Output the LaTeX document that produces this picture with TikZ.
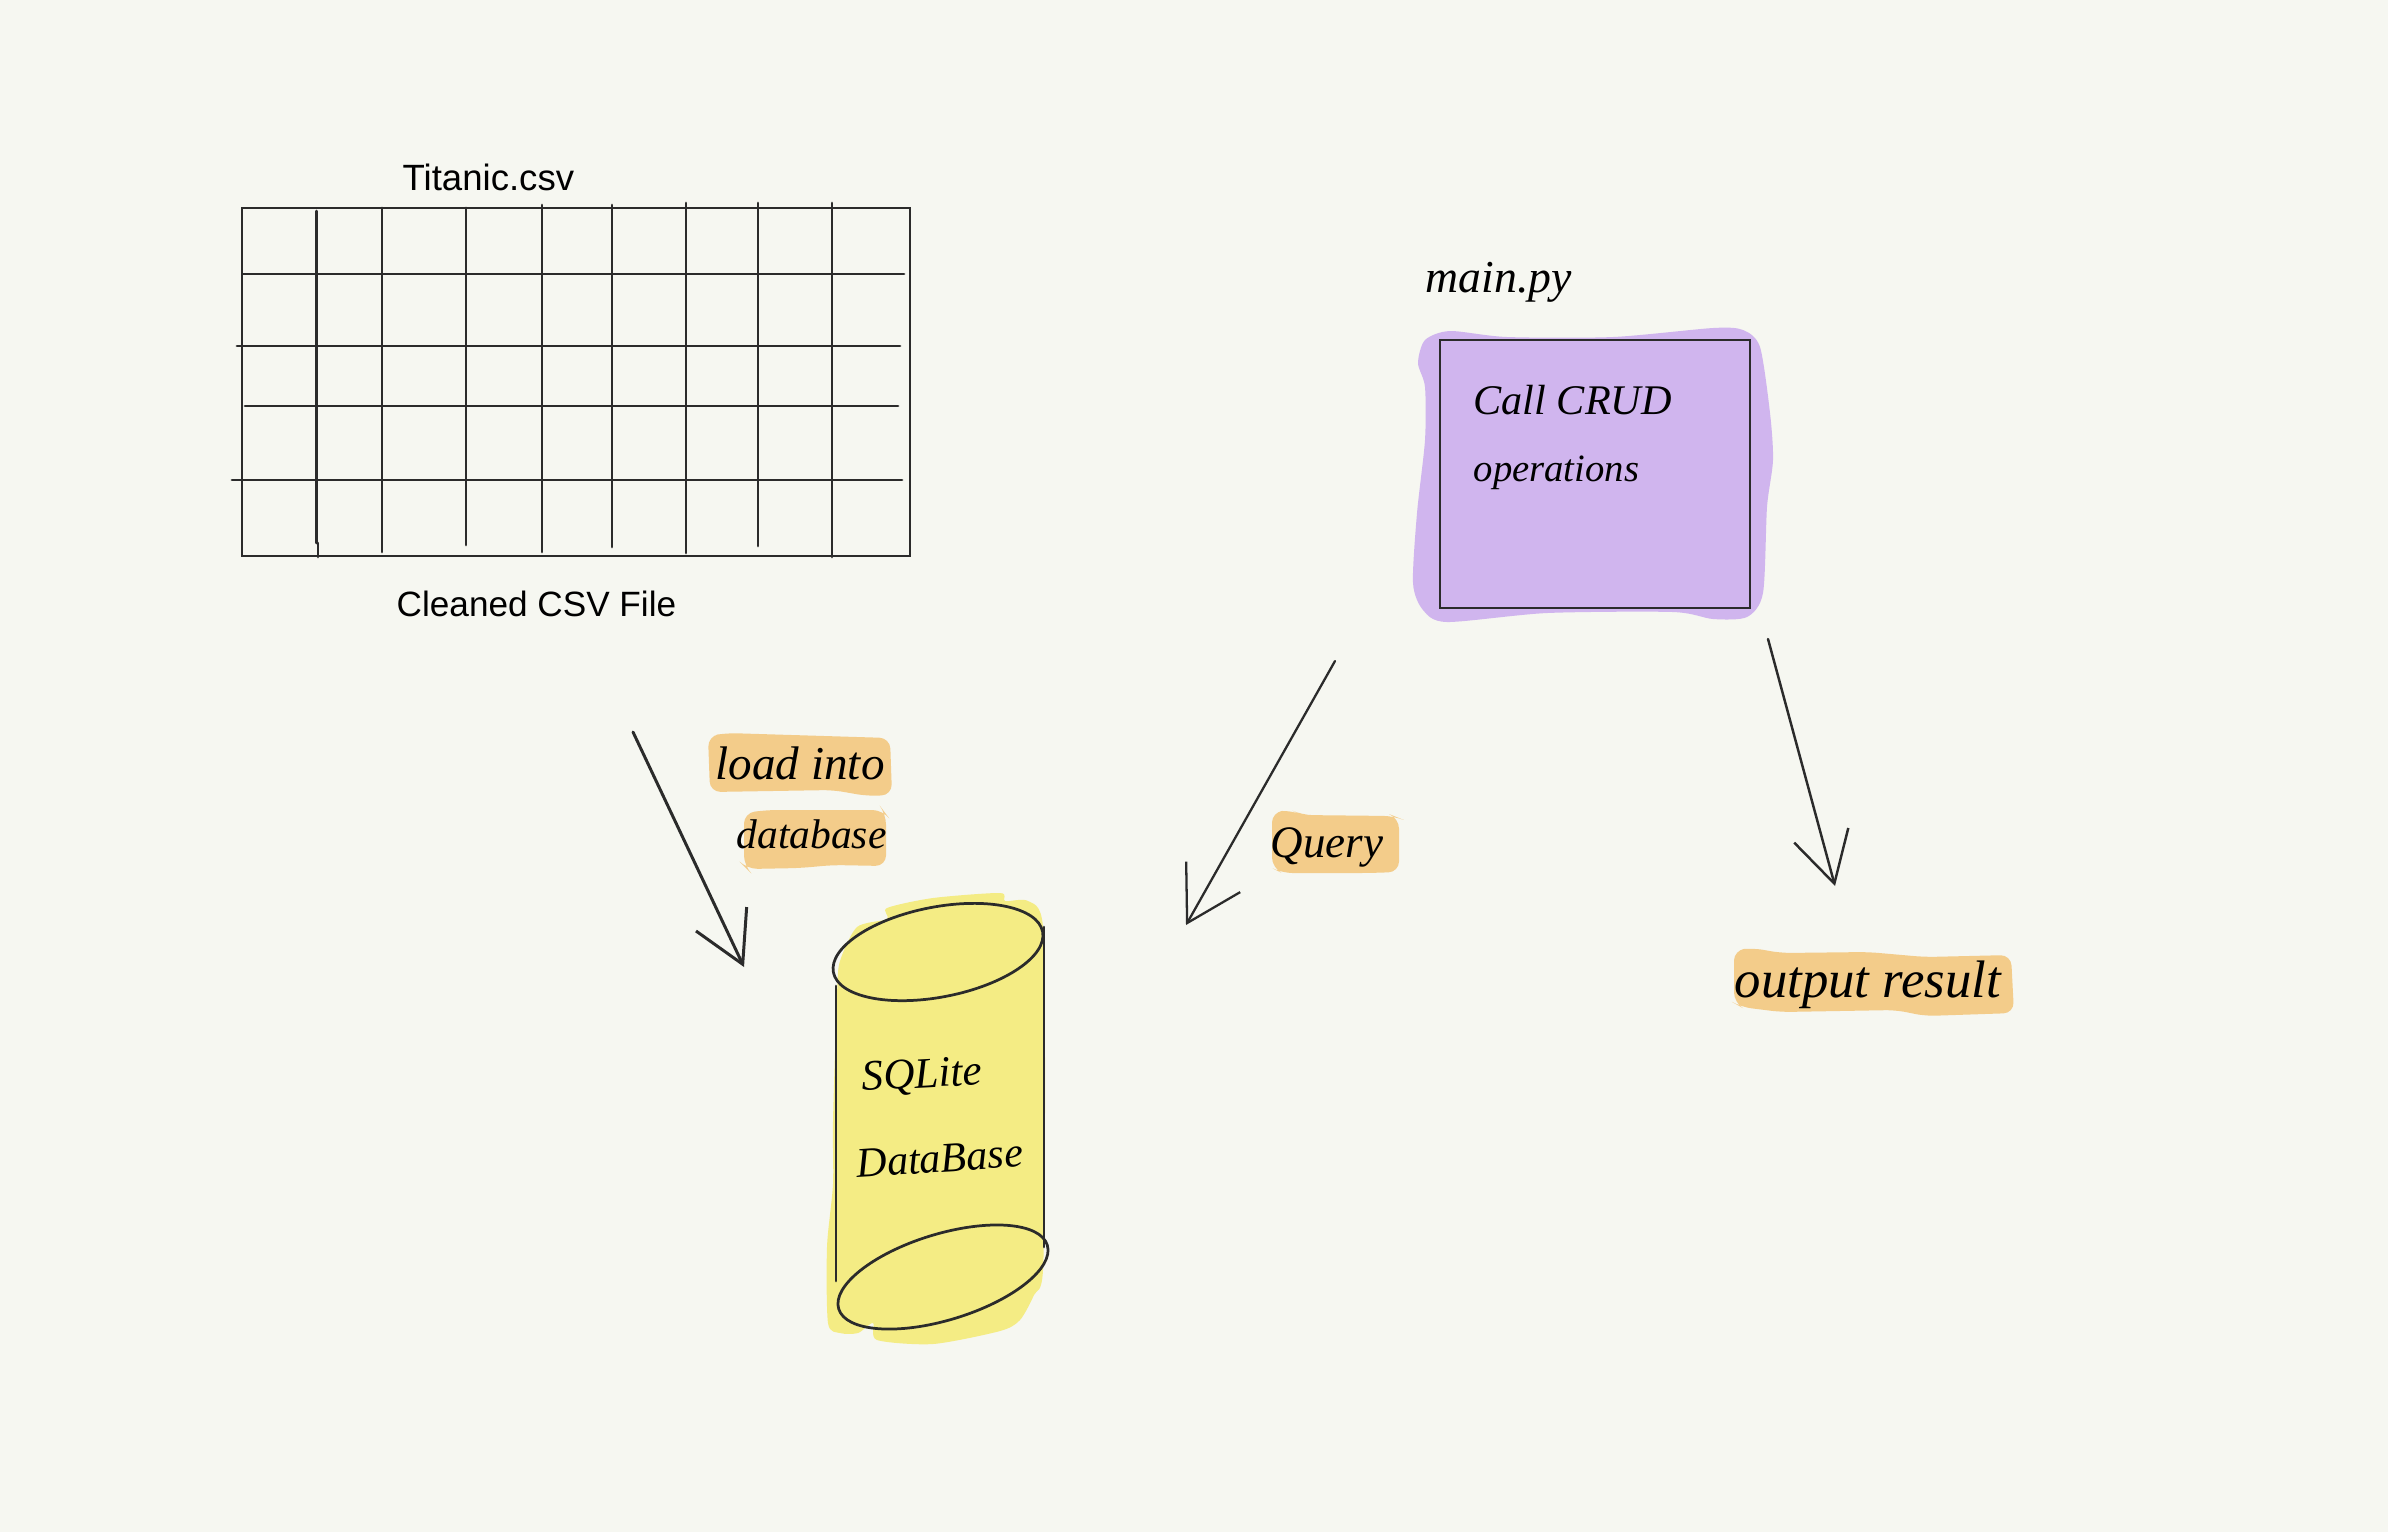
\documentclass[tikz,border=0pt]{standalone}
\usepackage{fontspec}
\setmainfont{Liberation Serif}
\setsansfont{Liberation Sans}
\usetikzlibrary{arrows.meta, shapes.geometric}

\definecolor{paper}{HTML}{F6F7F1}
\definecolor{ink}{HTML}{2B2B2B}
\definecolor{lilac}{HTML}{D0B5EE}
\definecolor{lemon}{HTML}{F4EC84}
\definecolor{peach}{HTML}{F3CC8A}

\begin{document}
\begin{tikzpicture}[x=0.01cm, y=-0.01cm, line cap=round]
    \tikzstyle{gridline}=[draw=ink, line width=0.78pt]
    \tikzstyle{printed}=[font=\sffamily\fontsize{10}{12}\selectfont, text=black, inner sep=0pt]
    \tikzstyle{blob}=[smooth cycle, tension=0.45]
    \tikzstyle{marker}=[fill=peach, rounded corners=3pt]
    \tikzstyle{outline}=[draw=ink, line width=0.78pt]
    \tikzstyle{flow}=[draw=ink, line width=0.85pt, -{Straight Barb[length=5mm, width=5.6mm]}]
    \tikzset{pen/.style={font=\itshape\fontsize{#1}{#1}\selectfont, text=black, inner sep=0pt, anchor=base west}}

    % Paper
    \fill[paper] (0, 0) rectangle (2388, 1532);

    % Titanic table
    \node[printed, anchor=base west, font=\sffamily\fontsize{10.4}{12}\selectfont] (title) at (402, 190) {Titanic.csv};
    \node[printed, anchor=base west] (caption) at (396, 616) {Cleaned CSV File};
    \draw[gridline] (242, 208) rectangle (910, 556);
    \draw[gridline] (243, 274) -- (904, 274);
    \draw[gridline] (237, 346) -- (900, 346);
    \draw[gridline] (245, 406) -- (898, 406);
    \draw[gridline] (232, 480) -- (902, 480);
    \draw[gridline] (316.5, 211) -- (316.5, 543);
    \draw[gridline] (318, 543) -- (318, 557);
    \draw[gridline] (382, 208) -- (382, 552);
    \draw[gridline] (466, 208) -- (466, 545);
    \draw[gridline] (542, 205) -- (542, 552);
    \draw[gridline] (612, 205) -- (612, 547);
    \draw[gridline] (686, 203) -- (686, 553);
    \draw[gridline] (758, 203) -- (758, 546);
    \draw[gridline] (832, 203) -- (832, 557);

    % main.py box
    \fill[lilac] plot[blob] coordinates {(1418,363) (1425,340) (1450,331) (1507,337) (1613,337) (1713,328) (1743,330) (1760,347) (1770,413) (1773,460) (1767,507) (1763,593) (1747,617) (1713,619) (1673,612) (1547,613) (1447,622) (1423,610) (1413,583) (1417,513) (1425,440) (1425,387)};
    \draw[outline] (1440, 340) rectangle (1750, 608);
    \node[pen=13] (main) at (1425, 292) {main.py};
    \node[pen=12] (call) at (1473, 414) {Call CRUD};
    \node[pen=11] (operations) at (1473, 481) {operations};

    % SQLite cylinder
    \fill[lemon] plot[blob] coordinates {(887,908) (933,898) (1000,893) (1005,901) (1028,901) (1043,927) (1045,1100) (1043,1270) (1034,1295) (1020,1320) (1000,1331) (933,1344) (877,1340) (873,1323) (858,1333) (840,1333) (828,1323) (827,1247) (833,1184) (833,1121) (837,995) (840,961) (857,927) (887,919)};
    \node[ellipse, outline, inner sep=0pt, minimum width=2.13cm, minimum height=0.9cm, rotate=11] (dbtop) at (938, 952) {};
    \node[ellipse, outline, inner sep=0pt, minimum width=2.18cm, minimum height=0.86cm, rotate=17] (dbbottom) at (943, 1277) {};
    \draw[outline] (836, 986) -- (836, 1281);
    \draw[outline] (1044, 927) -- (1044, 1247);
    \node[pen=12.3, rotate=3] (sqlite) at (862, 1091) {SQLite};
    \node[pen=12, rotate=4] (dbname) at (857, 1178) {DataBase};

    % Highlighted labels
    \fill[marker] (708,736) -- (727,733) -- (890,738) -- (892,795) -- (867,796) -- (833,790) -- (710,792) -- cycle;
    \fill[marker] (744,813) -- (767,810) -- (883,810) -- (886,814) -- (886,866) -- (833,865) -- (800,868) -- (747,869) -- (744,866) -- cycle;
    \fill[marker] (1272,812) -- (1291,810) -- (1302,815) -- (1394,816) -- (1399,818) -- (1399,872) -- (1368,873) -- (1282,873) -- (1272,868) -- cycle;
    \fill[marker] (1734,950) -- (1753,948) -- (1781,953) -- (1868,952) -- (1925,957) -- (2011,955) -- (2014,1013) -- (1925,1016) -- (1896,1010) -- (1781,1012) -- (1741,1007) -- (1734,1003) -- cycle;
    \node[pen=13.4] (load) at (715, 779) {load into};
    \node[pen=11.8] (database) at (736, 848) {database};
    \node[pen=12.8] (query) at (1270, 857) {Query};
    \node[pen=15] (output) at (1734, 997) {output result};

    % Arrows, all with free ends
    \coordinate (loadfrom) at (633, 732);
    \coordinate (loadto) at (744, 967);
    \coordinate (queryfrom) at (1335, 661);
    \coordinate (queryto) at (1186, 925);
    \coordinate (outputfrom) at (1768, 639);
    \coordinate (outputto) at (1835, 886);
    \draw[flow] (loadfrom) -- (loadto);
    \draw[flow, line width=0.65pt, -{Straight Barb[length=5.3mm, width=6.2mm]}] (queryfrom) -- (queryto);
    \draw[flow, line width=0.7pt] (outputfrom) -- (outputto);

    \useasboundingbox (0, 0) rectangle (2388, 1532);
\end{tikzpicture}
\end{document}
